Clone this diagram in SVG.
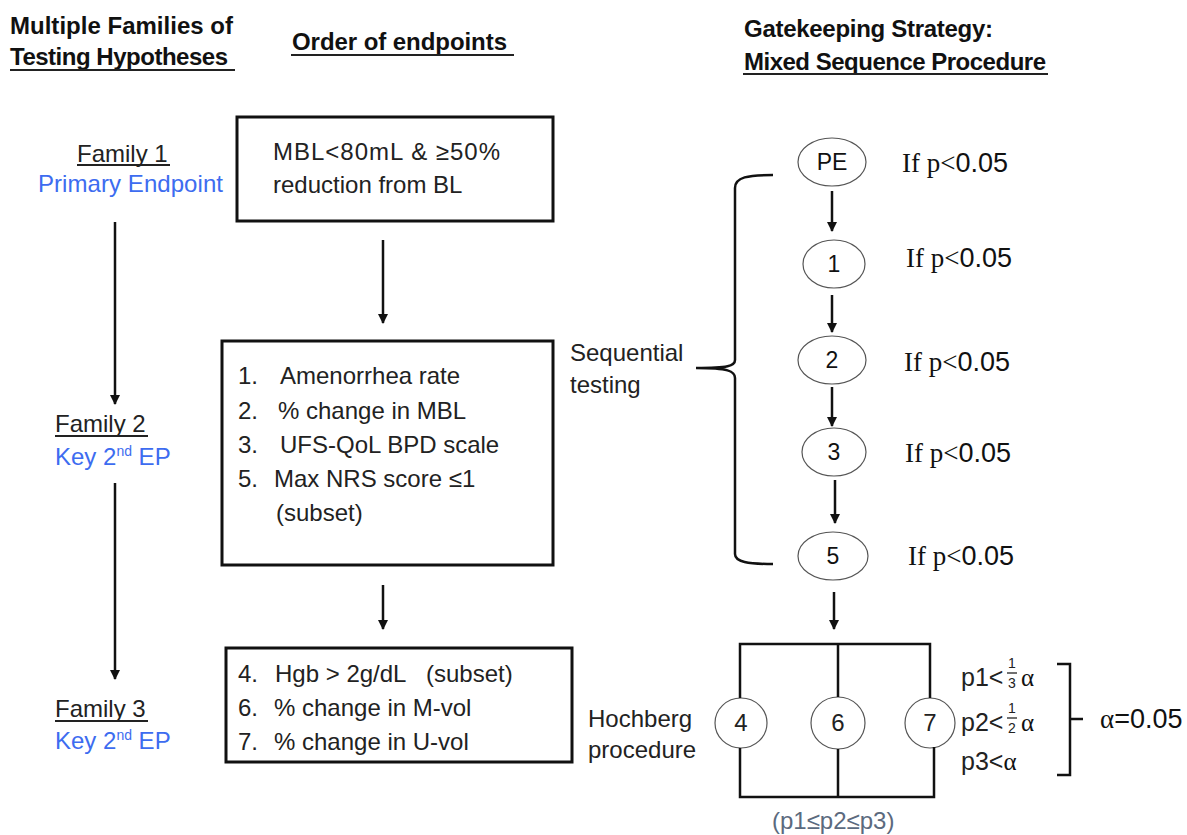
<svg xmlns="http://www.w3.org/2000/svg" width="1187" height="835" viewBox="0 0 1187 835">
<style>
.h{font-family:"Liberation Sans",Arial,sans-serif;font-weight:bold;font-size:24px;fill:#111}
.t{font-family:"Liberation Sans",Arial,sans-serif;font-size:24px;fill:#222}
.p{font-family:"Liberation Sans",Arial,sans-serif;font-size:25px;fill:#222}
.n{font-family:"Liberation Sans",Arial,sans-serif;font-size:23px;fill:#111;text-anchor:middle}
.b{fill:#3d6cf0}
.s{font-family:"Liberation Serif","Times New Roman",serif;font-size:27px;fill:#111}
.ss{font-family:"Liberation Sans",Arial,sans-serif}
.fr{font-family:"Liberation Sans",Arial,sans-serif;font-size:14px;fill:#222;text-anchor:middle}
.box{fill:#fff;stroke:#111;stroke-width:3}
.ell{fill:#fff;stroke:#555;stroke-width:1.2}
.ln{stroke:#111;stroke-width:2.5;fill:none}
.ul{stroke:#222;stroke-width:2}
.c{text-anchor:middle}
</style>
<defs>
<marker id="ah" viewBox="0 0 10 10" refX="9" refY="5" markerWidth="4" markerHeight="4" orient="auto" markerUnits="strokeWidth">
<path d="M0,0 L10,5 L0,10 z" fill="#111"/>
</marker>
</defs>

<g id="headings">
<text class="h" x="10" y="34" textLength="223">Multiple Families of</text>
<text class="h" x="10" y="65" textLength="218">Testing Hypotheses</text>
<line class="ul" x1="10" y1="70" x2="235" y2="70"/>
<text class="h" x="292" y="50" textLength="215">Order of endpoints</text>
<line class="ul" x1="291" y1="55" x2="514" y2="55"/>
<text class="h" x="744" y="37" textLength="249">Gatekeeping Strategy:</text>
<text class="h" x="744" y="70" textLength="302">Mixed Sequence Procedure</text>
<line class="ul" x1="743" y1="74" x2="1048" y2="74"/>
</g>

<g id="family1">
<text class="t" x="77" y="162">Family 1</text>
<line class="ul" x1="77" y1="165" x2="170" y2="165"/>
<text class="t b" x="38" y="192" textLength="185">Primary Endpoint</text>
</g>
<g id="family2">
<text class="t" x="55" y="432">Family 2</text>
<line class="ul" x1="55" y1="436" x2="148" y2="436"/>
<text class="t b" x="55" y="465">Key 2<tspan font-size="14" dy="-9">nd</tspan><tspan dy="9"> EP</tspan></text>
</g>
<g id="family3">
<text class="t" x="55" y="717">Family 3</text>
<line class="ul" x1="55" y1="721" x2="148" y2="721"/>
<text class="t b" x="55" y="749">Key 2<tspan font-size="14" dy="-9">nd</tspan><tspan dy="9"> EP</tspan></text>
</g>

<g id="box1">
<rect class="box" x="237" y="117" width="316" height="104"/>
<text class="t" x="273" y="160" textLength="227">MBL&lt;80mL &amp; ≥50%</text>
<text class="t" x="273" y="193">reduction from BL</text>
</g>
<g id="box2">
<rect class="box" x="222" y="341" width="331" height="224"/>
<text class="t" x="238" y="384">1.</text><text class="t" x="280" y="384">Amenorrhea rate</text>
<text class="t" x="238" y="419">2.</text><text class="t" x="278" y="419">% change in MBL</text>
<text class="t" x="238" y="453">3.</text><text class="t" x="280" y="453">UFS-QoL BPD scale</text>
<text class="t" x="238" y="487">5.</text><text class="t" x="274" y="487">Max NRS score ≤1</text>
<text class="t" x="276" y="521">(subset)</text>
</g>
<g id="box3">
<rect class="box" x="226" y="648" width="346" height="114"/>
<text class="t" x="238" y="682">4.</text><text class="t" x="275" y="682">Hgb &gt; 2g/dL</text><text class="t" x="426" y="682">(subset)</text>
<text class="t" x="238" y="716">6.</text><text class="t" x="274" y="716">% change in M-vol</text>
<text class="t" x="238" y="750">7.</text><text class="t" x="274" y="750">% change in U-vol</text>
</g>

<g id="labels">
<text class="t" x="570" y="361">Sequential</text>
<text class="t" x="570" y="393">testing</text>
<text class="t" x="588" y="727">Hochberg</text>
<text class="t" x="588" y="758">procedure</text>
<text class="t" x="772" y="829" style="fill:#5b6a7e">(p1≤p2≤p3)</text>
</g>

<g id="seq-nodes">
<g id="nPE"><ellipse class="ell" cx="832" cy="162" rx="34" ry="24"/><text class="n" x="832" y="170">PE</text></g>
<g id="n1"><ellipse class="ell" cx="834" cy="264" rx="31" ry="24"/><text class="n" x="834" y="272">1</text></g>
<g id="n2"><ellipse class="ell" cx="832" cy="360" rx="34" ry="24"/><text class="n" x="832" y="368">2</text></g>
<g id="n3"><ellipse class="ell" cx="834" cy="452" rx="32" ry="24"/><text class="n" x="834" y="460">3</text></g>
<g id="n5"><ellipse class="ell" cx="833" cy="556" rx="35" ry="24"/><text class="n" x="833" y="564">5</text></g>
</g>

<g id="conditions">
<text class="s" x="902" y="172">If  p&lt;<tspan class="ss">0.05</tspan></text>
<text class="s" x="906" y="267">If p&lt;<tspan class="ss">0.05</tspan></text>
<text class="s" x="904" y="371">If p&lt;<tspan class="ss">0.05</tspan></text>
<text class="s" x="905" y="462">If p&lt;<tspan class="ss">0.05</tspan></text>
<text class="s" x="908" y="565">If p&lt;<tspan class="ss">0.05</tspan></text>
</g>

<g id="hoch-nodes">
<g id="n4"><ellipse class="ell" cx="741" cy="723" rx="26" ry="25"/><text class="t c" x="741" y="731">4</text></g>
<g id="n6"><ellipse class="ell" cx="838" cy="723" rx="27" ry="26"/><text class="t c" x="838" y="731">6</text></g>
<g id="n7"><ellipse class="ell" cx="930" cy="723" rx="25" ry="25"/><text class="t c" x="930" y="731">7</text></g>
</g>

<g id="alpha">
<text class="p" x="961" y="686">p1&lt;</text>
<text class="fr" x="1012" y="668">1</text>
<line x1="1007" y1="673" x2="1017" y2="673" stroke="#222" stroke-width="1.3"/>
<text class="fr" x="1012" y="688">3</text>
<text class="s" x="1021" y="686" style="font-size:25px">α</text>
<text class="p" x="961" y="731">p2&lt;</text>
<text class="fr" x="1012" y="713">1</text>
<line x1="1007" y1="718" x2="1017" y2="718" stroke="#222" stroke-width="1.3"/>
<text class="fr" x="1012" y="733">2</text>
<text class="s" x="1021" y="731" style="font-size:25px">α</text>
<text class="p" x="961" y="770">p3&lt;<tspan class="s" style="font-size:25px">α</tspan></text>
<text class="s" x="1100" y="728">α<tspan class="ss">=0.05</tspan></text>
</g>

<g id="connectors">
<line class="ln" x1="115" y1="222" x2="115" y2="404" marker-end="url(#ah)"/>
<line class="ln" x1="115" y1="483" x2="115" y2="679" marker-end="url(#ah)"/>
<line class="ln" x1="383" y1="240" x2="383" y2="323" marker-end="url(#ah)"/>
<line class="ln" x1="383" y1="585" x2="383" y2="629" marker-end="url(#ah)"/>
<line class="ln" x1="832" y1="191" x2="832" y2="231" marker-end="url(#ah)"/>
<line class="ln" x1="832" y1="295" x2="832" y2="332" marker-end="url(#ah)"/>
<line class="ln" x1="832" y1="387" x2="832" y2="426" marker-end="url(#ah)"/>
<line class="ln" x1="835" y1="480" x2="835" y2="523" marker-end="url(#ah)"/>
<line class="ln" x1="834" y1="592" x2="834" y2="629" marker-end="url(#ah)"/>
<path class="ln" d="M773,175 C748,175 735,177 735,188 L735,360 C735,366 728,368 696,368 C728,368 735,371 735,378 L735,554 C735,562 748,564 773,564"/>
<path class="ln" d="M740,698 L740,644 L930,644 L930,698 M838,644 L838,697"/>
<path class="ln" d="M740,748 L740,797 L934,797 L934,747 M838,749 L838,797"/>
<path class="ln" d="M1057,664 L1070,664 L1070,775 L1057,775 M1070,719 L1083,719"/>
</g>
</svg>
